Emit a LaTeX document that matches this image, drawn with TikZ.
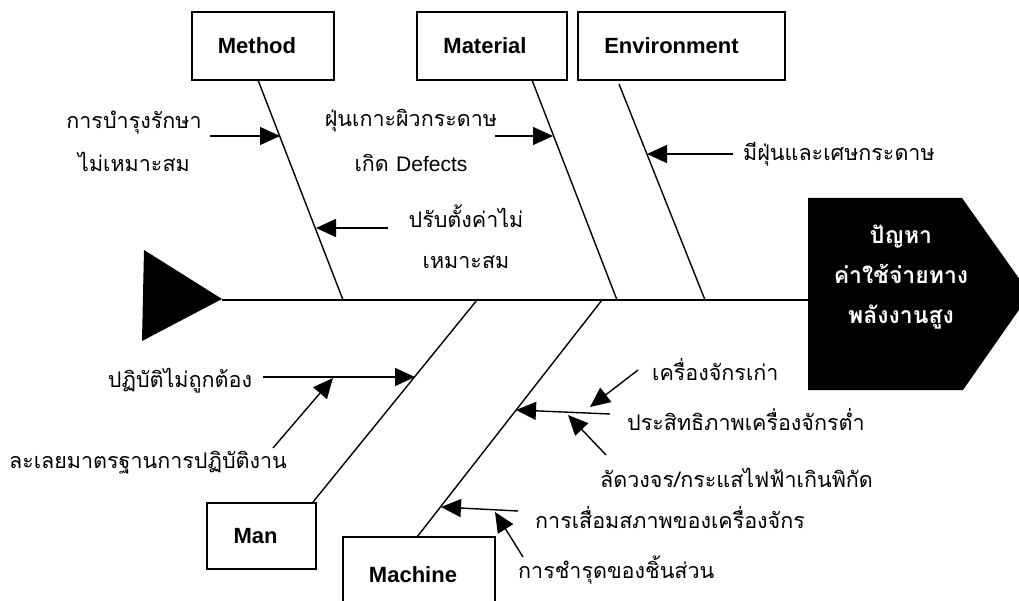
\documentclass[tikz,border=0pt]{standalone}
\usepackage{fontspec}
\setmainfont{Liberation Sans}
\newfontfamily\thai[Script=Thai]{Loma}
\usetikzlibrary{arrows.meta}
\begin{document}
\begin{tikzpicture}[x=1pt,y=-1pt,
  catbox/.style={draw,line width=2.6pt,inner sep=0pt,font=\fontsize{22}{26}\selectfont\bfseries},
  lbl/.style={font=\thai\fontsize{21.5}{26}\selectfont,inner sep=0pt,align=center},
  bone/.style={line width=1.4pt},
  arr/.style={line width=1.4pt,-{Triangle[length=20pt,width=18pt]}}]
\useasboundingbox (0,0) rectangle (1019,601);
% category boxes
\node[catbox,minimum width=142pt,minimum height=68pt] (method) at (263,46) {Method\hspace*{12pt}};
\node[catbox,minimum width=150pt,minimum height=68pt] (material) at (492,46) {Material\hspace*{14pt}};
\node[catbox,minimum width=207pt,minimum height=68pt] (env) at (681.5,46) {Environment\hspace*{20pt}};
\node[catbox,minimum width=109pt,minimum height=66pt] (man) at (261.5,536) {Man\hspace*{12pt}};
\node[catbox,minimum width=152pt,minimum height=76pt] (machine) at (419,575) {Machine\hspace*{12pt}};
% tail and head
\fill (144,250) -- (222,299) -- (142,341) -- cycle;
\coordinate (tailtip) at (222,300);
\fill (808,198) -- (962,198) -- (1030,294) -- (963,390) -- (808,390) -- cycle;
\node[font=\thai\bfseries\fontsize{23}{40}\selectfont,text=white,align=center] (head) at (901,277) {ปัญหา\\ค่าใช้จ่ายทาง\\พลังงานสูง};
\coordinate (headin) at (808,300);
\draw[bone] (tailtip) -- (headin);
% bone coordinates
\coordinate (mtop) at (258,80);   \coordinate (mspine) at (343,300);
\coordinate (mattop) at (532,80); \coordinate (matspine) at (617,300);
\coordinate (etop) at (619,84);   \coordinate (espine) at (705,300);
\coordinate (mantop) at (313,502); \coordinate (manspine) at (477,300);
\coordinate (mctop) at (417,537); \coordinate (mcspine) at (602,300);
\draw[bone] (mtop) -- (mspine);
\draw[bone] (mattop) -- (matspine);
\draw[bone] (etop) -- (espine);
\draw[bone] (mantop) -- (manspine);
\draw[bone] (mctop) -- (mcspine);
% labels
\node[lbl,font=\thai\fontsize{21.5}{43}\selectfont] (l1) at (134,141) {การบำรุงรักษา\\ไม่เหมาะสม};
\node[lbl,font=\thai\fontsize{21.5}{41}\selectfont] (l2) at (466,237) {ปรับตั้งค่าไม่\\เหมาะสม};
\node[lbl,font=\thai\fontsize{21.5}{45}\selectfont] (l3) at (411,140) {ฝุ่นเกาะผิวกระดาษ\\เกิด {\rmfamily\fontsize{21}{24}\selectfont Defects}};
\node[lbl,anchor=west] (l4) at (743,154) {มีฝุ่นและเศษกระดาษ};
\node[lbl] (l5) at (180,381) {ปฏิบัติไม่ถูกต้อง};
\node[lbl] (l6) at (148,463) {ละเลยมาตรฐานการปฏิบัติงาน};
\node[lbl,anchor=west] (l7) at (652,370) {เครื่องจักรเก่า};
\node[lbl,anchor=west] (l8) at (627,420) {ประสิทธิภาพเครื่องจักรต่ำ};
\node[lbl,anchor=west] (l9) at (600,478) {ลัดวงจร/กระแสไฟฟ้าเกินพิกัด};
\node[lbl,anchor=west] (l10) at (535,518) {การเสื่อมสภาพของเครื่องจักร};
\node[lbl,anchor=west] (l11) at (518,570) {การชำรุดของชิ้นส่วน};
% arrow coordinates
\coordinate (s1) at (210,136); \coordinate (e1) at (280,136);
\coordinate (s2) at (388,228); \coordinate (e2) at (316,228);
\coordinate (s3) at (495,136); \coordinate (e3) at (553,136);
\coordinate (s4) at (733,154); \coordinate (e4) at (647,154);
\coordinate (s5) at (263,377); \coordinate (e5) at (415,377);
\coordinate (s6) at (273,448); \coordinate (e6) at (333,378);
\coordinate (s7) at (610,414); \coordinate (e7) at (516,410);
\coordinate (s8) at (638,370); \coordinate (e8) at (590,407);
\coordinate (s9) at (606,455); \coordinate (e9) at (568,415);
\coordinate (s10) at (518,511); \coordinate (e10) at (441,507);
\coordinate (s11) at (523,557); \coordinate (e11) at (495,512);
\foreach \i in {1,...,11} {\draw[arr] (s\i) -- (e\i);}
\end{tikzpicture}
\end{document}
